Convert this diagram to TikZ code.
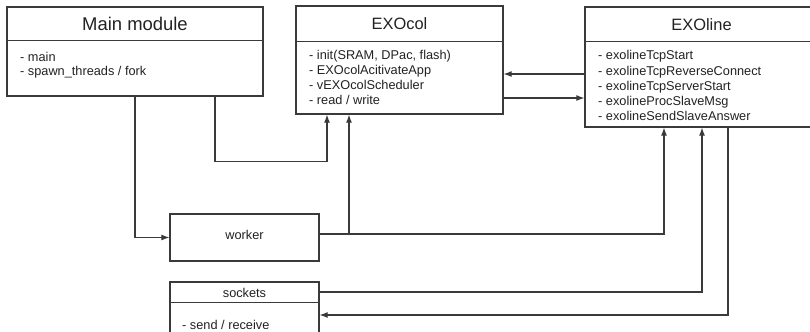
\documentclass[tikz,border=0pt]{standalone}
\usepackage{fontspec}
\setmainfont{Liberation Sans}
\usetikzlibrary{arrows.meta}
\definecolor{ink}{HTML}{3A3A3A}
\definecolor{txt}{HTML}{222222}
\tikzset{
  box/.style={draw=ink, line width=1.3bp, fill=white, inner sep=0pt},
  sep/.style={draw=ink, line width=1.3bp},
  conn/.style={draw=ink, line width=1.1bp},
  arr/.style={conn, -{Latex[length=8bp,width=6bp]}},
  rarr/.style={conn, {Latex[length=8bp,width=6bp]}-},
  bigtitle/.style={text=txt, inner sep=0pt, font=\fontsize{18.5}{20}\selectfont},
  title/.style={text=txt, inner sep=0pt, font=\fontsize{16.5}{18}\selectfont},
  item/.style={text=txt, inner sep=0pt, anchor=base west, font=\fontsize{12.8}{14}\selectfont},
  label/.style={text=txt, inner sep=0pt, font=\fontsize{12.8}{14}\selectfont},
}
\begin{document}
\begin{tikzpicture}[x=1bp, y=-1bp]
  \useasboundingbox (0,0) rectangle (810,331);
  \clip (0,0) rectangle (810,331);

  % class boxes
  \node[box, minimum width=256bp, minimum height=89bp] (main) at (135,51.5) {};
  \node[box, minimum width=207bp, minimum height=108bp] (exocol) at (399.5,60) {};
  \node[box, minimum width=233bp, minimum height=120bp] (exoline) at (701.5,67) {};
  \node[box, minimum width=149bp, minimum height=47bp] (worker) at (244.5,237.5) {};
  \node[box, minimum width=149bp, minimum height=60bp] (sockets) at (244.5,312) {};

  % header separators
  \draw[sep] ([yshift=-34bp]main.north west) -- ([yshift=-34bp]main.north east);
  \draw[sep] ([yshift=-36bp]exocol.north west) -- ([yshift=-36bp]exocol.north east);
  \draw[sep] ([yshift=-35bp]exoline.north west) -- ([yshift=-35bp]exoline.north east);
  \draw[sep] ([yshift=-21bp]sockets.north west) -- ([yshift=-21bp]sockets.north east);

  % titles
  \node[bigtitle] (maintitle) at (135,24) {Main module};
  \node[title] (exocoltitle) at (399.5,24) {EXOcol};
  \node[title] (exolinetitle) at (701.5,25) {EXOline};
  \node[label] (socktitle) at (244.5,292.5) {sockets};
  \node[label] (workertitle) at (244.5,234.5) {worker};

  % member lists
  \node[item] (m1) at (20,61.6) {- main};
  \node[item] (m2) at (20,75.6) {- spawn\_threads / fork};

  \node[item] (c1) at (309,59.6) {- init(SRAM, DPac, flash)};
  \node[item] (c2) at (309,74.4) {- EXOcolAcitivateApp};
  \node[item] (c3) at (309,89.2) {- vEXOcolScheduler};
  \node[item] (c4) at (309,104.2) {- read / write};

  \node[item] (l1) at (598,59.7) {- exolineTcpStart};
  \node[item] (l2) at (598,75) {- exolineTcpReverseConnect};
  \node[item] (l3) at (598,90.2) {- exolineTcpServerStart};
  \node[item] (l4) at (598,105.4) {- exolineProcSlaveMsg};
  \node[item] (l5) at (598,120.6) {- exolineSendSlaveAnswer};

  \node[item] (s1) at (182,329.3) {- send / receive};

  % connectors
  \draw[arr] (main.south) |- (worker.west);
  \draw[arr] ([xshift=80bp]main.south) -- ++(0,65) -| ([xshift=-72.5bp]exocol.south);
  \draw[arr] ([yshift=3.5bp]worker.east) -| ([xshift=-37.5bp]exoline.south);
  \draw[rarr] ([xshift=-50.5bp]exocol.south) -- ([xshift=-50.5bp,yshift=3.5bp]exocol.south |- worker.east);
  \draw[arr] ([yshift=-7bp]exoline.west) -- ([yshift=-7bp]exocol.east |- exoline.west);
  \draw[arr] ([yshift=-31bp]exocol.east |- exoline.west) -- ([yshift=-31bp]exoline.west);
  \draw[arr] ([yshift=20bp]sockets.east) -| ([xshift=0.5bp]exoline.south);
  \draw[arr] ([xshift=26.5bp]exoline.south) |- ([yshift=-3bp]sockets.east);
\end{tikzpicture}
\end{document}
